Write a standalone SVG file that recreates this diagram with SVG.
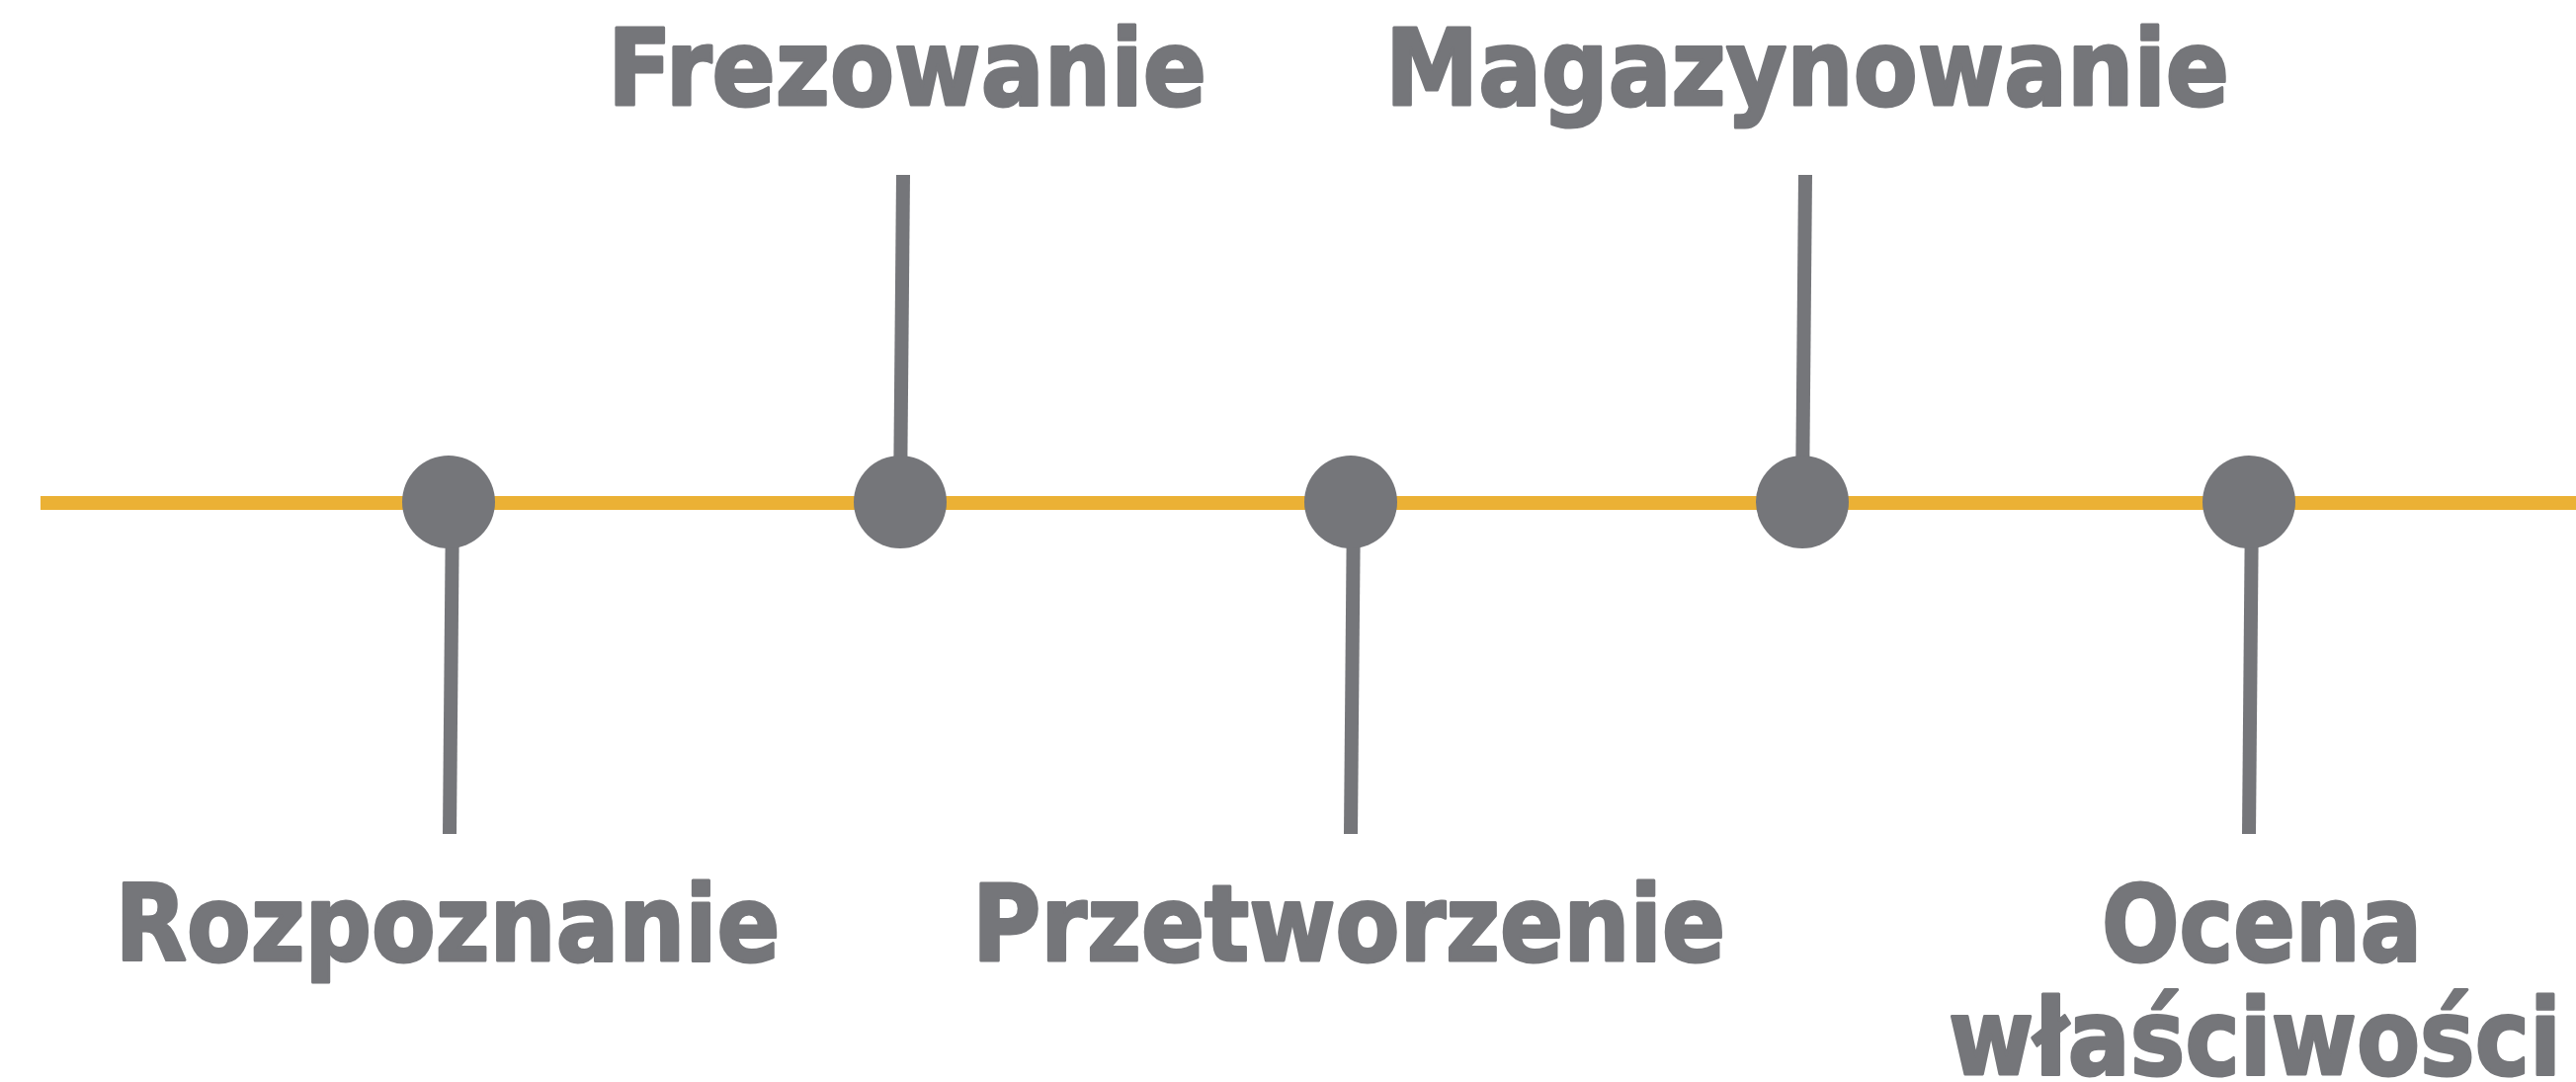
<svg xmlns="http://www.w3.org/2000/svg" width="2607" height="1095" viewBox="0 0 2607 1095">
<style>
.lbl{font-family:"DejaVu Sans",Verdana,sans-serif;font-weight:bold;font-size:107px;fill:#75767a;stroke:#75767a;stroke-width:3;stroke-linejoin:round;text-anchor:middle}
.stem{stroke:#75767a;stroke-width:14;fill:none}
.axis{stroke:#ebb135;stroke-width:14;fill:none}
.dot{fill:#75767a}
</style>
<rect width="2607" height="1095" fill="#ffffff"/>
<g id="connectors">
<line class="axis" x1="41" y1="509" x2="2607" y2="509"/>
<line class="stem" x1="458" y1="508" x2="455" y2="844"/>
<line class="stem" x1="911" y1="508" x2="914" y2="177"/>
<line class="stem" x1="1370" y1="508" x2="1367" y2="844"/>
<line class="stem" x1="1824" y1="508" x2="1827" y2="177"/>
<line class="stem" x1="2279" y1="508" x2="2276" y2="844"/>
</g>
<g id="node-rozpoznanie">
<circle class="dot" cx="454" cy="508" r="47"/>
<text class="lbl" x="453" y="972" textLength="673" lengthAdjust="spacingAndGlyphs">Rozpoznanie</text>
</g>
<g id="node-frezowanie">
<circle class="dot" cx="911" cy="508" r="47"/>
<text class="lbl" x="918" y="106" textLength="606" lengthAdjust="spacingAndGlyphs">Frezowanie</text>
</g>
<g id="node-przetworzenie">
<circle class="dot" cx="1367" cy="508" r="47"/>
<text class="lbl" x="1365" y="972" textLength="762" lengthAdjust="spacingAndGlyphs">Przetworzenie</text>
</g>
<g id="node-magazynowanie">
<circle class="dot" cx="1824" cy="508" r="47"/>
<text class="lbl" x="1829" y="106" textLength="854" lengthAdjust="spacingAndGlyphs">Magazynowanie</text>
</g>
<g id="node-ocena">
<circle class="dot" cx="2276" cy="508" r="47"/>
<text class="lbl" x="2289" y="972" textLength="324" lengthAdjust="spacingAndGlyphs">Ocena</text>
<text class="lbl" x="2282" y="1087" textLength="620" lengthAdjust="spacingAndGlyphs">właściwości</text>
</g>
</svg>
